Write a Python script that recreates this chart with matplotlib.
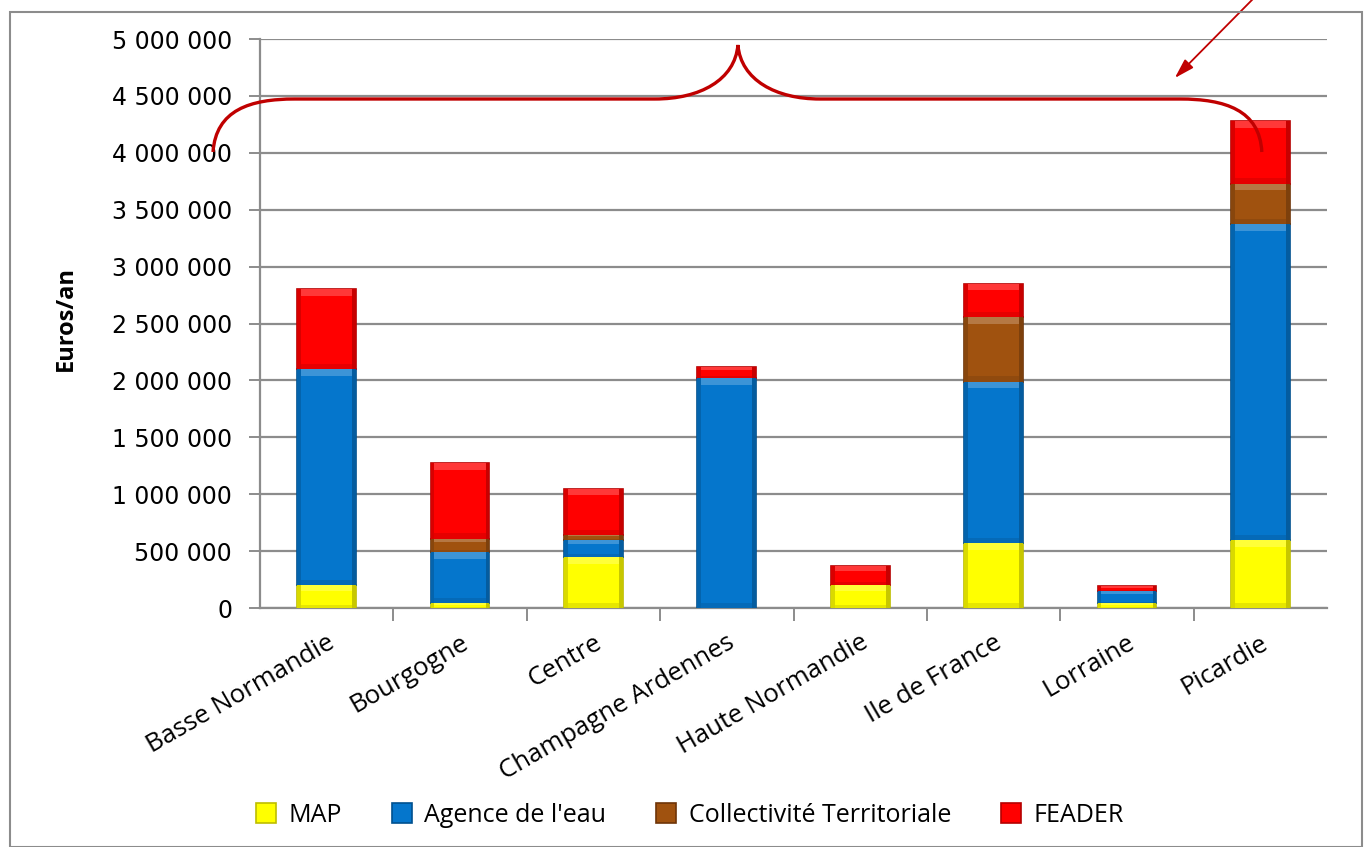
import matplotlib
matplotlib.use("Agg")
import matplotlib.pyplot as plt
import numpy as np
from matplotlib.path import Path
from matplotlib.patches import PathPatch, Rectangle, FancyArrowPatch
from matplotlib.ticker import FuncFormatter, MultipleLocator
from matplotlib.colors import to_rgb

regions = ["Basse Normandie", "Bourgogne", "Centre", "Champagne Ardennes",
           "Haute Normandie", "Ile de France", "Lorraine", "Picardie"]
map_vals = [200000, 40000, 450000, 0, 200000, 570000, 40000, 600000]
agence_vals = [1900000, 450000, 150000, 2020000, 0, 1420000, 110000, 2770000]
collectivite_vals = [0, 120000, 40000, 0, 0, 570000, 0, 360000]
feader_vals = [700000, 660000, 410000, 100000, 170000, 290000, 40000, 550000]

series = [
    ("MAP", map_vals, "#FFFF00", "#BDBD00"),
    ("Agence de l'eau", agence_vals, "#0576CC", "#00508F"),
    ("Collectivité Territoriale", collectivite_vals, "#A0520F", "#6E3508"),
    ("FEADER", feader_vals, "#FF0000", "#B50000"),
]


def mix(c, other, t):
    a, b = np.array(to_rgb(c)), np.array(to_rgb(other))
    return tuple(a * (1 - t) + b * t)


W, H = 1367, 847
fig = plt.figure(figsize=(W / 100, H / 100), dpi=100)
ax = fig.add_axes([260 / W, 1 - 608 / H, (1327 - 260) / W, (608 - 39) / H])

x = np.arange(len(regions))
bar_w = 0.44
bottom = np.zeros(len(regions))
handles = []
for name, vals, col, edge in series:
    vals = np.array(vals, dtype=float)
    b = ax.bar(x, vals, width=bar_w, bottom=bottom, color=col, edgecolor=edge,
               linewidth=1.2, label=name, zorder=3)
    handles.append(b)
    # bevel shading: darker sides, lighter top strip, darker bottom strip
    for rect in b.patches:
        x0, y0 = rect.get_x(), rect.get_y()
        w, h = rect.get_width(), rect.get_height()
        if h <= 0:
            continue
        side = 0.028
        ax.add_patch(Rectangle((x0, y0), side, h, color=mix(col, "black", 0.15),
                               lw=0, zorder=3.5))
        ax.add_patch(Rectangle((x0 + w - side, y0), side, h,
                               color=mix(col, "black", 0.22), lw=0, zorder=3.5))
        strip = min(60000, h * 0.25)
        ax.add_patch(Rectangle((x0 + side, y0 + h - strip), w - 2 * side, strip,
                               color=mix(col, "white", 0.22), lw=0, zorder=3.6))
        ax.add_patch(Rectangle((x0 + side, y0), w - 2 * side, min(45000, h * 0.15),
                               color=mix(col, "black", 0.1), lw=0, zorder=3.6))
    bottom += vals

ax.set_xlim(-0.5, len(regions) - 0.5)
ax.set_ylim(0, 5000000)
ax.yaxis.set_major_locator(MultipleLocator(500000))
ax.yaxis.set_major_formatter(FuncFormatter(lambda v, p: f"{int(v):,}".replace(",", " ")))
ax.grid(axis="y", color="#8C8C8C", linewidth=1.6, zorder=0)
ax.set_axisbelow(True)

for s in ["top", "right"]:
    ax.spines[s].set_visible(False)
for s in ["left", "bottom"]:
    ax.spines[s].set_color("#8C8C8C")
    ax.spines[s].set_linewidth(1.6)

ax.tick_params(axis="y", length=8, width=1.4, color="#8C8C8C", labelsize=17, pad=12)
ax.set_xticks(x)
ax.set_xticklabels(regions, rotation=30, ha="right", rotation_mode="anchor",
                   fontsize=18.5, family="Open Sans")
ax.tick_params(axis="x", length=0, pad=16)
ax.set_xticks(np.arange(0.5, len(regions) - 0.5), minor=True)
ax.tick_params(axis="x", which="minor", length=9, width=1.4, color="#8C8C8C")

ax.set_ylabel("Euros/an", fontsize=17, fontweight="bold", family="Open Sans")
ax.yaxis.set_label_coords(-182 / (1327 - 260), (608 - 318) / (608 - 39))


# curly brace spanning the regions
def px_to_data(px, py):
    return ((px - 260) / 133.4 - 0.5, (608 - py) / 113.8 * 1e6)


pts = [
    (213, 152), (216, 110), (250, 99), (295, 99),
    (655, 99), (700, 99), (735, 80), (738, 45),
    (741, 80), (776, 99), (820, 99),
    (1180, 99), (1225, 99), (1260, 110), (1262, 152),
]
codes = [Path.MOVETO, Path.CURVE4, Path.CURVE4, Path.CURVE4,
         Path.LINETO, Path.CURVE4, Path.CURVE4, Path.CURVE4,
         Path.CURVE4, Path.CURVE4, Path.CURVE4,
         Path.LINETO, Path.CURVE4, Path.CURVE4, Path.CURVE4]
brace = PathPatch(Path([px_to_data(*p) for p in pts], codes), facecolor="none",
                  edgecolor="#C00000", linewidth=2.4, clip_on=False, zorder=5)
ax.add_patch(brace)

arrow = FancyArrowPatch(px_to_data(1262, -10), px_to_data(1173, 80),
                        arrowstyle="-|>,head_length=10,head_width=3",
                        color="#C00000", linewidth=1.3, clip_on=False, zorder=5,
                        mutation_scale=1.2)
ax.add_patch(arrow)

fig.legend(handles=handles, labels=[s[0] for s in series], loc="center",
           bbox_to_anchor=(690 / W, 1 - 815 / H), ncol=4, frameon=False,
           handlelength=0.8, handleheight=0.9, columnspacing=2.0,
           handletextpad=0.5, prop={"family": "Open Sans", "size": 18})

fig.patches.append(Rectangle((10 / W, 0), (1362 - 10) / W, 1 - 12 / H,
                             transform=fig.transFigure, fill=False,
                             edgecolor="#8C8C8C", linewidth=1.5))

fig.savefig("out.png", dpi=100)
